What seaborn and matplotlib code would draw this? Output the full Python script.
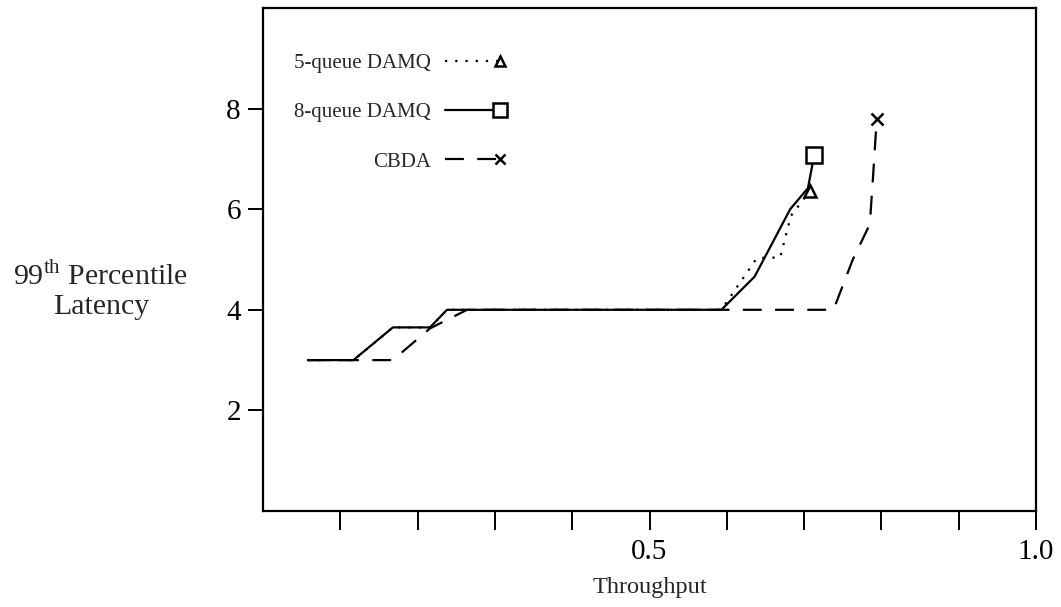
import numpy as np
import pandas as pd
import matplotlib
matplotlib.use("Agg")
import matplotlib.pyplot as plt
from matplotlib.lines import Line2D
from matplotlib.legend_handler import HandlerLine2D
import seaborn as sns

# Latency curves: throughput (x) vs 99th percentile latency (y)
x_damq5 = [0.058, 0.117, 0.168, 0.216, 0.238, 0.593, 0.639, 0.669, 0.683, 0.708]
y_damq5 = [3.0, 3.0, 3.65, 3.65, 4.0, 4.0, 5.03, 5.04, 5.87, 6.37]

x_damq8 = [0.058, 0.117, 0.168, 0.216, 0.238, 0.593, 0.636, 0.682, 0.705, 0.713]
y_damq8 = [3.0, 3.0, 3.65, 3.65, 4.0, 4.0, 4.66, 6.0, 6.42, 7.07]

x_cbda = [0.058, 0.168, 0.216, 0.264, 0.738, 0.763, 0.785, 0.789, 0.794]
y_cbda = [3.0, 3.0, 3.63, 4.0, 4.0, 5.0, 5.7, 6.6, 7.8]

series_names = ["5-queue DAMQ", "8-queue DAMQ", "CBDA"]

x_ticks = [0.1, 0.2, 0.3, 0.4, 0.5, 0.6, 0.7, 0.8, 0.9, 1.0]
x_tick_labels = ["", "", "", "", "0.5", "", "", "", "", "1.0"]
y_ticks = [2, 4, 6, 8]
y_tick_labels = ["2", "4", "6", "8"]

sns.set_style("ticks")
plt.rcParams["font.family"] = ["Liberation Serif", "DejaVu Serif"]
plt.rcParams["mathtext.fontset"] = "custom"
plt.rcParams["mathtext.rm"] = "Liberation Serif"

fig = plt.figure(figsize=(10.61, 6.07), dpi=100)
ax = fig.add_axes([263 / 1061, 1 - 511 / 607, 773 / 1061, 503 / 607])

lw = 1.6
styles = [
    dict(linestyle=(0, (1.0, 3.6)), marker="^", markersize=9,
         markerfacecolor="white"),
    dict(linestyle="-", marker="s", markersize=12, markerfacecolor="white"),
    dict(linestyle=(0, (8.5, 6.0)), marker="x", markersize=9,
         markerfacecolor="black"),
]
data = [(x_damq5, y_damq5), (x_damq8, y_damq8), (x_cbda, y_cbda)]

handles = []
for (xs, ys), st, name in zip(data, styles, series_names):
    df = pd.DataFrame({"throughput": xs, "latency": ys})
    sns.lineplot(data=df, x="throughput", y="latency", ax=ax, sort=False,
                 estimator=None, color="black", linewidth=lw,
                 linestyle=st["linestyle"], marker=st["marker"],
                 markersize=st["markersize"], markevery=[len(xs) - 1],
                 markerfacecolor=st["markerfacecolor"],
                 markeredgecolor="black", markeredgewidth=1.8)
    handles.append(Line2D([], [], color="black", linewidth=lw,
                          linestyle=st["linestyle"], marker=st["marker"],
                          markersize=st["markersize"] * 0.85,
                          markerfacecolor=st["markerfacecolor"],
                          markeredgecolor="black", markeredgewidth=1.8,
                          label=name))


class EndMarkerHandler(HandlerLine2D):
    """Legend key with the line sample and the marker at its right end."""

    def create_artists(self, legend, orig_handle, xdescent, ydescent,
                       width, height, fontsize, trans):
        y = -ydescent + height / 2
        x0, x1 = -xdescent, -xdescent + width
        line = Line2D([x0, x1], [y, y])
        line.update_from(orig_handle)
        line.set_marker("None")
        mark = Line2D([x1], [y])
        mark.update_from(orig_handle)
        mark.set_linestyle("None")
        for a in (line, mark):
            a.set_transform(trans)
        return [line, mark]


ax.legend(handles=handles, handler_map={Line2D: EndMarkerHandler()},
          loc="upper right", bbox_to_anchor=(0.3195, 0.930), frameon=False,
          markerfirst=False, fontsize=15, labelspacing=1.42,
          handlelength=2.6, handletextpad=0.7, borderpad=0)

ax.set_xlim(0, 1.0)
ax.set_ylim(0, 10)
ax.set_xticks(x_ticks)
ax.set_xticklabels(x_tick_labels)
ax.set_yticks(y_ticks)
ax.set_yticklabels(y_tick_labels)
ax.tick_params(axis="x", direction="out", length=14, width=1.4,
               labelsize=21, pad=6, colors="black")
ax.tick_params(axis="y", direction="out", length=11, width=1.4,
               labelsize=21, pad=5, colors="black")
for sp in ax.spines.values():
    sp.set_visible(True)
    sp.set_linewidth(1.6)
    sp.set_color("black")

ax.set_xlabel("Throughput", fontsize=17.5, labelpad=9)
ax.set_ylabel("99$^{\\rm th}$ Percentile\nLatency", fontsize=21.5,
              rotation=0, ha="center", va="center", linespacing=1.15)
ax.yaxis.set_label_coords(-0.2096, 0.439)

fig.savefig("out.png", dpi=100)
